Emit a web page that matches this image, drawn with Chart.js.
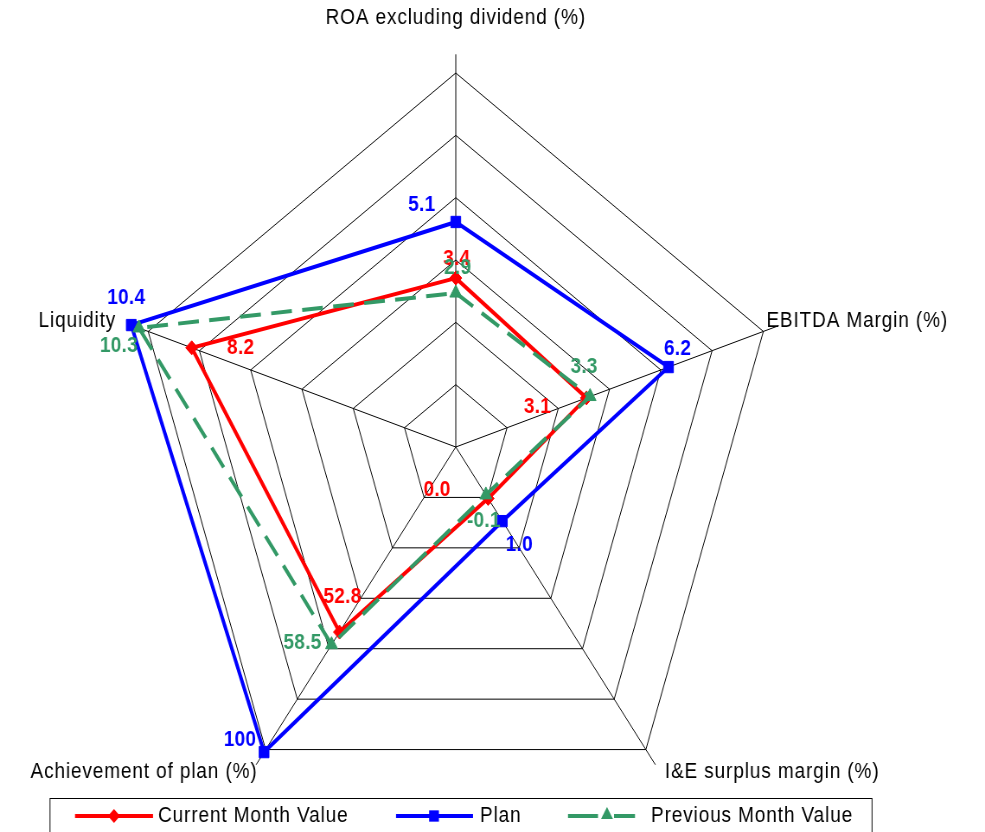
<!DOCTYPE html>
<html>
<head>
<meta charset="utf-8">
<title>Radar</title>
<script src="https://cdn.jsdelivr.net/npm/chart.js@4.4.1/dist/chart.umd.min.js"></script>
<style>
  html, body { margin: 0; padding: 0; background: #fff; overflow: hidden; }
  /* the original picture is squeezed sideways, so the whole canvas is too */
  #wrap { width: 1139px; height: 832px; transform: scaleX(0.8648); transform-origin: 0 0; }
</style>
</head>
<body>
<div id="wrap"><canvas id="radar" width="1139" height="832"></canvas></div>
<script>
const categories = ['ROA excluding dividend (%)', 'EBITDA Margin (%)', 'I&E surplus margin (%)', 'Achievement of plan (%)', 'Liquidity'];

// values printed next to the points
const currentValues  = [3.4, 3.1, 0.0, 52.8, 8.2];
const planValues     = [5.1, 6.2, 1.0, 100, 10.4];
const previousValues = [2.9, 3.3, -0.1, 58.5, 10.3];

const currentPos  = [2.71, 2.55, 1.02, 3.67, 5.15];
const planPos     = [3.61, 4.15, 1.47, 6.05, 6.33];
const previousPos = [2.47, 2.62, 0.95, 3.92, 6.18];

const ringTicks = [0, 1, 2, 3, 4, 5, 6];

const SX = 0.8648;
const FONT = '"Liberation Sans", Arial, sans-serif';
const RED = '#ff0000', BLUE = '#0000ff', GREEN = '#339966';

const fmt = (v) => (Math.abs(v) >= 100 ? String(v) : v.toFixed(1));

// label placement, screen px from the point
const labelOffsets = [
  [[1, -19], [-49, 9], [-51, -8], [3, -35], [49, 0]],
  [[-34, -17], [9, -18], [17, 24], [-24, -12], [-5, -27]],
  [[2, -25], [-6, -30], [-2, 26], [-29, -2], [-20, 18]]
];
const seriesValues = [currentValues, planValues, previousValues];
const seriesColors = [RED, BLUE, GREEN];

// axis title placement, screen px from the outer vertex
const axisTitlePos = [
  { dx: 0, dy: -55, align: 'center' },
  { dx: 3, dy: -10, align: 'left' },
  { dx: 19, dy: 22, align: 'left' },
  { dx: -8, dy: 22, align: 'right' },
  { dx: -32, dy: -10, align: 'right' }
];

function marker(ctx, style, x, y, r, color) {
  ctx.save();
  ctx.fillStyle = color;
  ctx.beginPath();
  if (style === 'rect') {
    const s = r * Math.SQRT1_2;
    ctx.rect(x - s, y - s, 2 * s, 2 * s);
  } else if (style === 'rectRot') {
    ctx.moveTo(x, y - r); ctx.lineTo(x + r, y); ctx.lineTo(x, y + r); ctx.lineTo(x - r, y);
  } else {
    ctx.moveTo(x, y - r);
    ctx.lineTo(x + r * 0.866, y + r * 0.5);
    ctx.lineTo(x - r * 0.866, y + r * 0.5);
  }
  ctx.closePath();
  ctx.fill();
  ctx.restore();
}

const spokes = {
  id: 'spokes',
  beforeDatasetsDraw(chart) {
    const sc = chart.scales.r;
    const ctx = chart.ctx;
    const d = sc.getDistanceFromCenterForValue(6.3);
    ctx.save();
    ctx.strokeStyle = '#000';
    ctx.lineWidth = 1;
    categories.forEach((c, i) => {
      const p = sc.getPointPosition(i, d);
      ctx.beginPath();
      ctx.moveTo(sc.xCenter, sc.yCenter);
      ctx.lineTo(p.x, p.y);
      ctx.stroke();
    });
    ctx.restore();
  }
};

const texts = {
  id: 'texts',
  afterDatasetsDraw(chart) {
    const ctx = chart.ctx;
    const sc = chart.scales.r;
    ctx.save();
    ctx.textBaseline = 'middle';
    ctx.textAlign = 'center';
    ctx.letterSpacing = '0.3px';
    ctx.font = 'bold 22px ' + FONT;
    [0, 1, 2].forEach(k => {
      const meta = chart.getDatasetMeta(k);
      ctx.fillStyle = seriesColors[k];
      meta.data.forEach((pt, i) => {
        const o = labelOffsets[k][i];
        ctx.fillText(fmt(seriesValues[k][i]), pt.x + o[0] / SX, pt.y + o[1]);
      });
    });

    ctx.fillStyle = '#000';
    ctx.font = '22px ' + FONT;
    ctx.letterSpacing = '1px';
    categories.forEach((c, i) => {
      const v = sc.getPointPosition(i, sc.drawingArea);
      const a = axisTitlePos[i];
      ctx.textAlign = a.align;
      ctx.fillText(c, v.x + a.dx / SX, v.y + a.dy);
    });
    ctx.restore();
  },
  afterDraw(chart) {
    // legend box
    const ctx = chart.ctx;
    const y = 816;
    ctx.save();
    ctx.strokeStyle = '#000';
    ctx.lineWidth = 1;
    ctx.strokeRect(50 / SX, 798.5, (872 - 50) / SX, 60);

    ctx.lineWidth = 4;
    ctx.strokeStyle = RED;
    ctx.beginPath(); ctx.moveTo(75 / SX, y); ctx.lineTo(153 / SX, y); ctx.stroke();
    marker(ctx, 'rectRot', 114 / SX, y, 7, RED);

    ctx.strokeStyle = BLUE;
    ctx.beginPath(); ctx.moveTo(396 / SX, y); ctx.lineTo(473 / SX, y); ctx.stroke();
    marker(ctx, 'rect', 434 / SX, y, 8, BLUE);

    ctx.strokeStyle = GREEN;
    ctx.beginPath(); ctx.moveTo(568 / SX, y); ctx.lineTo(598 / SX, y); ctx.stroke();
    ctx.beginPath(); ctx.moveTo(614 / SX, y); ctx.lineTo(635 / SX, y); ctx.stroke();
    marker(ctx, 'triangle', 607 / SX, y - 1, 8, GREEN);

    ctx.fillStyle = '#000';
    ctx.font = '22px ' + FONT;
    ctx.letterSpacing = '1px';
    ctx.textBaseline = 'middle';
    ctx.textAlign = 'left';
    ctx.fillText('Current Month Value', 158 / SX, y);
    ctx.fillText('Plan', 480 / SX, y);
    ctx.fillText('Previous Month Value', 651 / SX, y);
    ctx.restore();
  }
};

const ds = (label, data, color, style, radius, dash, order) => ({
  label, data,
  borderColor: color,
  backgroundColor: color,
  pointBackgroundColor: color,
  pointBorderColor: color,
  pointStyle: style,
  pointRadius: radius,
  pointBorderWidth: 1,
  borderWidth: 4,
  borderDash: dash,
  borderJoinStyle: 'miter',
  fill: false,
  clip: false,
  order
});

new Chart(document.getElementById('radar'), {
  type: 'radar',
  data: {
    labels: categories,
    datasets: [
      ds('Current Month Value', currentPos, RED, 'rectRot', 7, [], 3),
      ds('Plan', planPos, BLUE, 'rect', 8, [], 2),
      ds('Previous Month Value', previousPos, GREEN, 'triangle', 8, [24, 12], 1)
    ]
  },
  options: {
    responsive: false,
    devicePixelRatio: 1,
    animation: false,
    layout: { padding: { left: 153, top: 73, right: 238, bottom: 11 } },
    plugins: { legend: { display: false }, tooltip: { enabled: false } },
    elements: { line: { tension: 0 } },
    scales: {
      r: {
        min: ringTicks[0],
        max: ringTicks[ringTicks.length - 1],
        ticks: { display: false, stepSize: 1 },
        pointLabels: { display: false },
        angleLines: { display: false },
        grid: { color: '#000', lineWidth: 1 }
      }
    }
  },
  plugins: [spokes, texts]
});
</script>
</body>
</html>
